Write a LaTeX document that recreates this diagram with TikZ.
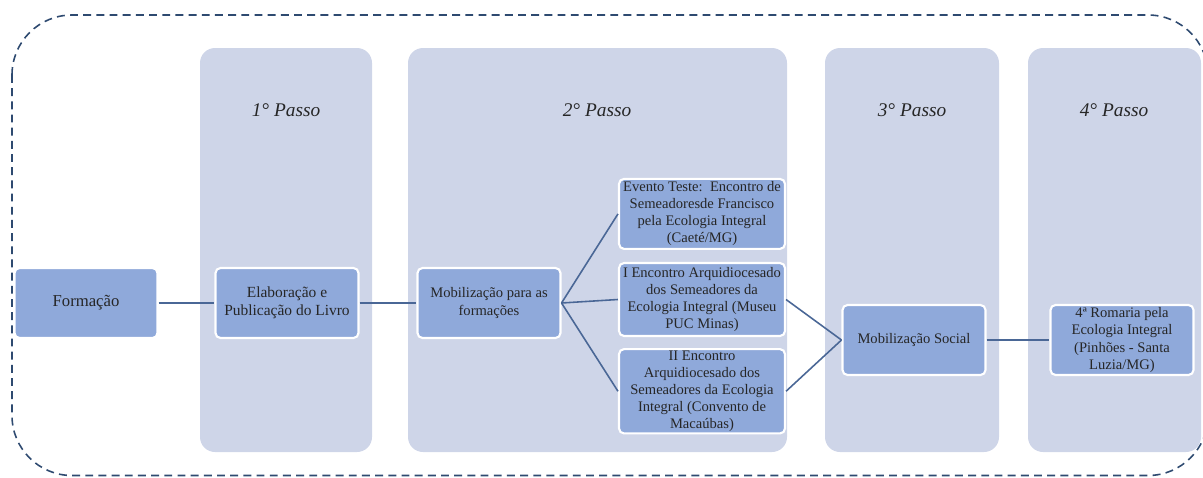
\documentclass[tikz,border=0pt]{standalone}
\usepackage{fontspec}
\setmainfont{Liberation Serif}
\usetikzlibrary{positioning}
\definecolor{colunaazul}{HTML}{CED5E8}
\definecolor{caixaazul}{HTML}{8FA9DA}
\definecolor{linhaazul}{HTML}{4A6796}
\definecolor{bordaazul}{HTML}{2E4A70}

\begin{document}
\begin{tikzpicture}[x=0.02cm,y=-0.02cm,
		coluna/.style={fill=colunaazul,rounded corners=0.3cm},
		passo/.style={font=\fontsize{11}{13}\selectfont\itshape,text=black!85},
		caixa/.style={fill=caixaazul,draw=white,line width=1.2pt,rounded corners=0.1cm,
			align=center,inner sep=1pt,font=\fontsize{8.3}{9.7}\selectfont,text=black!85,
			minimum width=2.86cm,minimum height=1.4cm},
		evento/.style={caixa,minimum width=3.32cm},
		liga/.style={draw=linhaazul,line width=0.9pt}]
	
	\useasboundingbox (0,0) rectangle (1203,477);
	
	% Moldura tracejada
	\draw[bordaazul,line width=0.9pt,dash pattern=on 4.5pt off 3pt,rounded corners=1.2cm]
	(12,15) rectangle (1208,475.5);
	
	% Colunas dos passos
	\fill[coluna] (200,48) rectangle (372,452);
	\fill[coluna] (408,48) rectangle (787,452);
	\fill[coluna] (825,48) rectangle (999,452);
	\fill[coluna] (1028,48) rectangle (1201,452);
	
	\node[passo] (p1) at (286,110) {1° Passo};
	\node[passo] (p2) at (597,110) {2° Passo};
	\node[passo] (p3) at (912,110) {3° Passo};
	\node[passo] (p4) at (1114,110) {4° Passo};
	
	% Caixas
	\node[caixa,font=\fontsize{9.5}{11}\selectfont] (form) at (86,303) {Formação};
	\node[caixa,font=\fontsize{8.8}{10}\selectfont] (elab) at (287,303) {Elaboração e\\Publicação do Livro};
	\node[caixa] (mobf) at (489,303) {Mobilização para as\\formações};
	
	\node[evento,minimum height=1.46cm] (enc1) at (702,299.5) {I Encontro Arquidiocesado\\dos Semeadores da\\Ecologia Integral (Museu\\PUC Minas)};
	\node[evento,above=0.24cm of enc1] (evt) {Evento Teste:\ \ Encontro de\\Semeadoresde Francisco\\pela Ecologia Integral\\(Caeté/MG)};
	\node[evento,minimum height=1.56cm,below=0.22cm of enc1] (enc2) {II Encontro\\Arquidiocesado dos\\Semeadores da Ecologia\\Integral (Convento de\\Macaúbas)};
	
	\node[caixa] (mobs) at (914,340) {Mobilização Social};
	\node[caixa] (rom) at (1122,340) {4ª Romaria pela\\Ecologia Integral\\(Pinhões - Santa\\Luzia/MG)};
	
	% Ligacoes
	\draw[liga] (form) -- (elab);
	\draw[liga] (elab) -- (mobf);
	\draw[liga] (mobf.east) -- (evt.west);
	\draw[liga] (mobf.east) -- (enc1.west);
	\draw[liga] (mobf.east) -- (enc2.west);
	\draw[liga] (enc1.east) -- (mobs.west);
	\draw[liga] (enc2.east) -- (mobs.west);
	\draw[liga] (mobs) -- (rom);
	
\end{tikzpicture}
\end{document}
